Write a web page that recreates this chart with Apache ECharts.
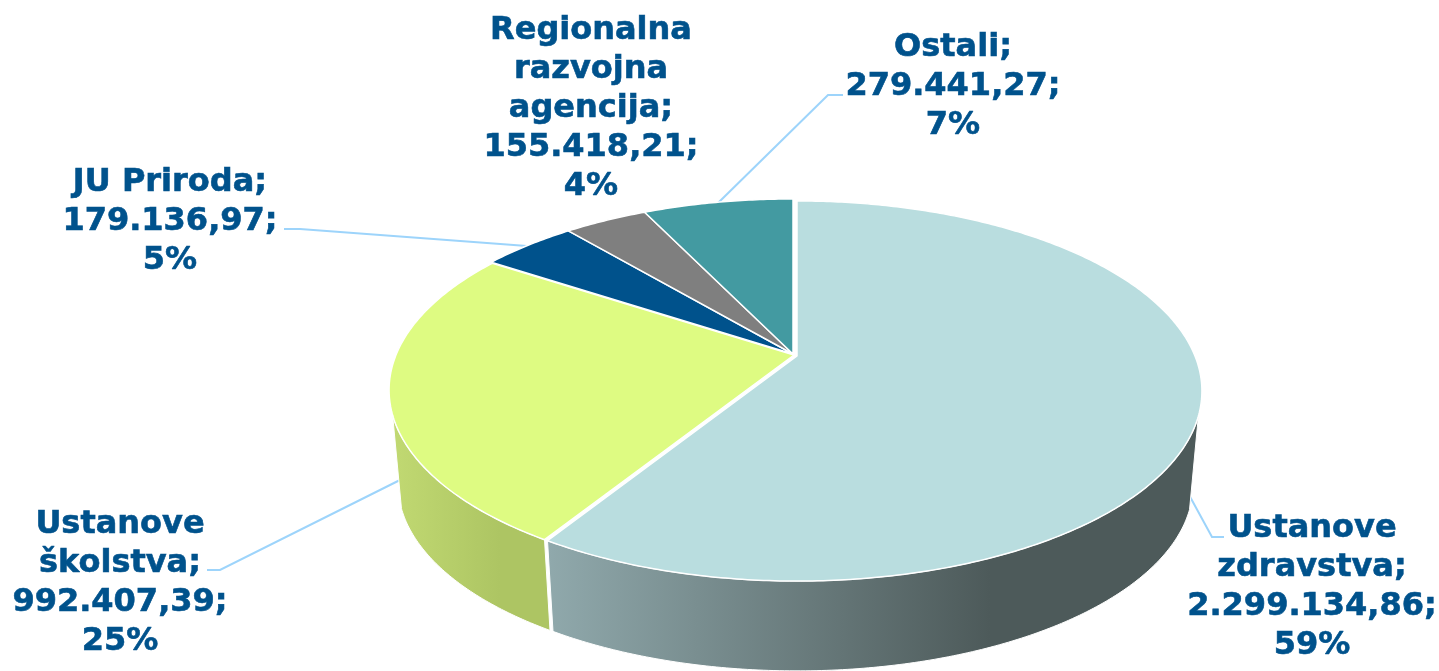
<!DOCTYPE html>
<html>
<head>
<meta charset="utf-8">
<title>Pie</title>
<script src="https://cdn.jsdelivr.net/npm/echarts@6/dist/echarts.min.js"></script>
<style>
  html, body { margin: 0; padding: 0; background: #fff; }
  #main { width: 1439px; height: 671px; }
</style>
</head>
<body>
<div id="main"></div>
<script>
// data, clockwise from 12 o'clock
const names = ["Ustanove\nzdravstva", "Ustanove\nškolstva", "JU Priroda", "Regionalna\nrazvojna\nagencija", "Ostali"];
const values = [2299134.86, 992407.39, 179136.97, 155418.21, 279441.27];
const percents = [59, 25, 5, 4, 7];

// styles
const topColors = ["#b9dddf", "#defb82", "#00528c", "#7f7f7f", "#439aa1"];
const wallColors = [
  ["#90a9ac", "#4d5a5a"],
  ["#c1d972", "#adc563"],
  ["#003f6c", "#003f6c"],
  ["#606060", "#606060"],
  ["#33767b", "#33767b"],
];

// label placement: centre of the text block
const labelPos = [[1312, 587], [120, 583], [170, 222], [591, 109], [953, 87]];
// leader lines, the regional agency has none
const leaderLines = [
  [[1188, 493], [1212, 537], [1224, 537]],
  [[400, 480], [220, 570], [207, 570]],
  [[527, 246], [300, 229], [284, 229]],
  null,
  [[718, 203], [828, 95], [843, 95]],
];
// small gap between slices
const sliceShift = [[2, 1], [-1, 0], [-2, -1], [-2, -1], [-2, -1]];

// tilted disc, the centre of the pie is not the centre of the ellipse
const apexX = 795, apexY = 355;
const tiltA = 398, tiltB = 183.6, tiltK = 0.1842;
const wallDrop = 94, wallScale = 0.978, ellipseCy = 390;
// only this part of the rim shows a side wall
const wallFrom = (108 / 180) * Math.PI, wallTo = (252 / 180) * Math.PI;

const total = values.reduce((a, b) => a + b, 0);

function rimPoint(angle) {
  let X = Math.sin(angle), Y = -Math.cos(angle);
  let w = 1 - tiltK * Y;
  return [apexX + (tiltA * X) / w, apexY + (tiltB * Y) / w];
}

function lowerPoint(p) {
  return [apexX + wallScale * (p[0] - apexX), ellipseCy + wallDrop + wallScale * (p[1] - ellipseCy)];
}

function sliceRange(index) {
  let before = 0;
  for (let i = 0; i < index; i++) before += values[i];
  return [(before / total) * Math.PI * 2, ((before + values[index]) / total) * Math.PI * 2];
}

function rimPoints(from, to) {
  let steps = Math.max(4, Math.ceil((to - from) * 90));
  let pts = [];
  for (let i = 0; i <= steps; i++) {
    pts.push(rimPoint(from + ((to - from) * i) / steps));
  }
  return pts;
}

function move(pts, shift) {
  return pts.map((p) => [p[0] + shift[0], p[1] + shift[1]]);
}

function renderLeader(params) {
  let line = leaderLines[params.dataIndex];
  if (!line) return { type: "group", children: [] };
  return {
    type: "polyline",
    shape: { points: line },
    style: { fill: null, stroke: "#9dd4fb", lineWidth: 2 },
  };
}

function renderWall(params) {
  let i = params.dataIndex;
  let range = sliceRange(i);
  let from = Math.max(range[0], wallFrom), to = Math.min(range[1], wallTo);
  if (from >= to) return { type: "group", children: [] };
  let rim = rimPoints(from, to);
  let lower = rim.map(lowerPoint).reverse();
  return {
    type: "polygon",
    shape: { points: move(rim.concat(lower), sliceShift[i]) },
    style: {
      fill: new echarts.graphic.LinearGradient(0, 0, 1, 0, [
        { offset: 0, color: wallColors[i][0] },
        { offset: 0.68, color: wallColors[i][1] },
        { offset: 1, color: wallColors[i][1] },
      ]),
      stroke: "#fff",
      lineWidth: 1,
    },
  };
}

function renderTop(params) {
  let i = params.dataIndex;
  let range = sliceRange(i);
  let pts = [[apexX, apexY]].concat(rimPoints(range[0], range[1]));
  return {
    type: "polygon",
    shape: { points: move(pts, sliceShift[i]) },
    style: { fill: topColors[i], stroke: "#fff", lineWidth: 1.5, lineJoin: "round" },
  };
}

function formatValue(v) {
  let parts = v.toFixed(2).split(".");
  return parts[0].replace(/\B(?=(\d{3})+$)/g, ".") + "," + parts[1];
}

function renderLabel(params) {
  let i = params.dataIndex;
  return {
    type: "text",
    style: {
      x: labelPos[i][0],
      y: labelPos[i][1],
      text: names[i] + ";\n" + formatValue(values[i]) + ";\n" + percents[i] + "%",
      fill: "#00528c",
      stroke: "#00528c",
      lineWidth: 0.6,
      fontFamily: "DejaVu Sans",
      fontWeight: "bold",
      fontSize: 32,
      lineHeight: 39,
      align: "center",
      verticalAlign: "middle",
    },
  };
}

let myChart = echarts.init(document.getElementById("main"));
myChart.setOption({
  animation: false,
  backgroundColor: "#fff",
  series: [
    { type: "custom", coordinateSystem: "none", data: values, renderItem: renderLeader, silent: true },
    { type: "custom", coordinateSystem: "none", data: values, renderItem: renderWall, silent: true },
    { type: "custom", coordinateSystem: "none", data: values, renderItem: renderTop, silent: true },
    { type: "custom", coordinateSystem: "none", data: values, renderItem: renderLabel, silent: true },
  ],
});
</script>
</body>
</html>
